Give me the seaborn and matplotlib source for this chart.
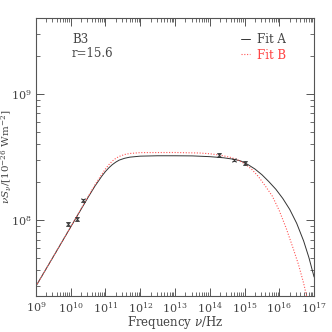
import numpy as np
import pandas as pd
import matplotlib
matplotlib.use("Agg")
import matplotlib.pyplot as plt
import seaborn as sns

# curve samples (log10 nu, log10 nuS_nu)
fitA_lognu = [9.0, 9.5, 10.0, 10.5, 10.7, 10.9, 11.0, 11.1, 11.2, 11.3, 11.4, 11.55, 11.7,
              12.0, 12.5, 13.0, 13.5, 14.0, 14.4, 14.7, 14.9, 15.1, 15.3, 15.5, 15.7,
              15.9, 16.1, 16.3, 16.5, 16.7, 16.85, 17.0]
fitA_logS = [7.476, 7.71, 7.945, 8.18, 8.27, 8.35, 8.385, 8.415, 8.44, 8.46, 8.476, 8.49, 8.499,
             8.507, 8.51, 8.51, 8.509, 8.503, 8.494, 8.482, 8.468, 8.44, 8.405, 8.36, 8.305,
             8.245, 8.172, 8.085, 7.975, 7.835, 7.705, 7.55]

fitB_lognu = [9.0, 9.5, 10.0, 10.5, 10.7, 10.9, 11.0, 11.1, 11.2, 11.3, 11.4, 11.55, 11.7,
              12.0, 13.0, 13.7, 14.0, 14.3, 14.6, 14.8, 15.0, 15.2, 15.4, 15.6, 15.8,
              16.0, 16.2, 16.4, 16.55, 16.7, 16.8]
fitB_logS = [7.476, 7.71, 7.945, 8.185, 8.28, 8.365, 8.405, 8.44, 8.468, 8.49, 8.505, 8.52, 8.528,
             8.535, 8.536, 8.532, 8.526, 8.515, 8.497, 8.478, 8.448, 8.405, 8.345, 8.27, 8.19,
             8.075, 7.935, 7.775, 7.65, 7.50, 7.38]

# observed photometry
obs_nu = [8.3e9, 1.5e10, 2.2e10, 1.85e14, 5.0e14, 1.0e15]
obs_S = [9.3e7, 1.02e8, 1.44e8, 3.3e8, 3.0e8, 2.83e8]
obs_err = [3e6, 3e6, 4e6, 1.2e7, 6e6, 1.0e7]

dfA = pd.DataFrame({'nu': np.power(10.0, fitA_lognu), 'S': np.power(10.0, fitA_logS)})
dfB = pd.DataFrame({'nu': np.power(10.0, fitB_lognu), 'S': np.power(10.0, fitB_logS)})

sns.set_style("ticks")
plt.rcParams['font.family'] = ['DejaVu Serif']
plt.rcParams['mathtext.fontset'] = 'dejavuserif'

fig = plt.figure(figsize=(3.32, 3.32), dpi=100)
ax = fig.add_axes([0.108, 0.108, 0.838, 0.838])

sns.lineplot(data=dfA, x='nu', y='S', ax=ax, color='#333333', lw=0.7, label='Fit A', sort=False)
sns.lineplot(data=dfB, x='nu', y='S', ax=ax, color='#ff5555', lw=0.8, ls=(0, (1, 1.5)),
             label='Fit B', sort=False)
ax.errorbar(obs_nu, obs_S, yerr=obs_err, fmt='x', color='#333333', ms=2.5, mew=0.6,
            elinewidth=0.6, capsize=1.5)

ax.set_xscale('log')
ax.set_yscale('log')
ax.set_xticks([10.0**k for k in range(9, 18)])
ax.set_yticks([1e8, 1e9])
xminor = [m * 10.0**k for k in range(9, 17) for m in range(2, 10)]
yminor = [m * 10.0**k for k in range(7, 10) for m in range(2, 10)]
ax.xaxis.set_minor_locator(matplotlib.ticker.FixedLocator(xminor))
ax.yaxis.set_minor_locator(matplotlib.ticker.FixedLocator(yminor))
ax.xaxis.set_minor_formatter(matplotlib.ticker.NullFormatter())
ax.yaxis.set_minor_formatter(matplotlib.ticker.NullFormatter())
ax.set_xlim(1e9, 1e17)
ax.set_ylim(2.5e7, 4e9)

for sp in ax.spines.values():
    sp.set_color('#555555')
    sp.set_linewidth(0.8)
ax.tick_params(which='both', direction='in', top=True, right=True, colors='#555555',
               labelcolor='#444444', labelsize=8, pad=3)
ax.tick_params(which='major', length=6, width=0.7)
ax.tick_params(which='minor', length=3, width=0.6)

ax.set_xlabel(r'Frequency $\nu$/Hz', fontsize=8.5, color='#444444')
ax.set_ylabel(r'$\nu S_\nu/[10^{-26}$ Wm$^{-2}$]', fontsize=7.5, color='#444444')
ax.xaxis.set_label_coords(0.5, -0.065)
ax.yaxis.set_label_coords(-0.078, 0.5)

ax.text(0.13, 0.945, 'B3', transform=ax.transAxes, fontsize=8.5, color='#444444', va='top')
ax.text(0.13, 0.895, 'r=15.6', transform=ax.transAxes, fontsize=8.5, color='#444444', va='top')

leg = ax.legend(loc='upper right', bbox_to_anchor=(0.93, 0.975), frameon=False, fontsize=8.5,
                handlelength=0.8, handletextpad=0.6, labelspacing=0.2, borderpad=0.2)
for txt, c in zip(leg.get_texts(), ['#444444', '#ff4444']):
    txt.set_color(c)

fig.savefig('out.png', dpi=100)
